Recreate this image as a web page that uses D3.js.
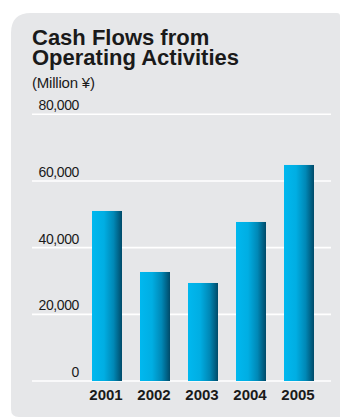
<!DOCTYPE html>
<html>
<head>
<meta charset="utf-8">
<script src="https://cdn.jsdelivr.net/npm/d3@7"></script>
<style>
  html, body { margin: 0; padding: 0; background: #ffffff; }
  svg { display: block; }
  text { font-family: "Liberation Sans", Arial, Helvetica, sans-serif; fill: #1a1a1a; }
</style>
</head>
<body>
<svg id="chart" width="340" height="417"></svg>
<script>
// Cash flows from operating activities, fiscal years 2001–2005 (Million ¥)
const years = ["2001", "2002", "2003", "2004", "2005"];
const cashFlows = [51000, 32700, 29400, 47700, 64800];
const tickValues = [0, 20000, 40000, 60000, 80000];
const titleLines = ["Cash Flows from", "Operating Activities"];
const unitLabel = "(Million ¥)";

const svg = d3.select("#chart");

// Panel background: large rounded top-left corner, small ones elsewhere
const px0 = 11, py0 = 13, px1 = 340, py1 = 417;
const rTL = 20, rTR = 3, rBL = 8;
const panel = d3.path();
panel.moveTo(px0 + rTL, py0);
panel.lineTo(px1 - rTR, py0);
panel.quadraticCurveTo(px1, py0, px1, py0 + rTR);
panel.lineTo(px1, py1);
panel.lineTo(px0 + rBL, py1);
panel.quadraticCurveTo(px0, py1, px0, py1 - rBL);
panel.lineTo(px0, py0 + rTL);
panel.quadraticCurveTo(px0, py0, px0 + rTL, py0);
panel.closePath();
svg.append("path").attr("d", panel.toString()).attr("fill", "#e6e7e9");

// Title, two tightly leaded lines
const title = svg.append("g");
titleLines.forEach((line, i) => {
  title.append("text")
    .attr("x", 32).attr("y", 44.5 + i * 20)
    .style("font-size", "22px").style("font-weight", "bold")
    .text(line);
});

svg.append("text")
  .attr("x", 32).attr("y", 87.5)
  .style("font-size", "15px").style("letter-spacing", "-0.2px")
  .text(unitLabel);

// Scales
const y = d3.scaleLinear().domain([0, 80000]).range([381, 114.3]);
const x = d3.scaleBand().domain(years).range([83, 323])
  .paddingInner(0.375).paddingOuter(0.1875);

// Gridlines
const gridX0 = 32, gridX1 = 331;
svg.append("g").selectAll("line").data(tickValues).join("line")
  .attr("x1", gridX0).attr("x2", gridX1)
  .attr("y1", d => y(d)).attr("y2", d => y(d))
  .attr("stroke", "#ffffff").attr("stroke-width", 1.6);

// Y tick labels, right-aligned above each gridline
const fmt = d3.format(",");
svg.append("g").selectAll("text").data(tickValues).join("text")
  .attr("x", 79).attr("y", d => y(d) - 4)
  .attr("text-anchor", "end")
  .style("font-size", "14px").style("letter-spacing", "-0.4px")
  .text(d => fmt(d));

// Bar shading: bright cyan fading to deep blue on the right side
const defs = svg.append("defs");
const grad = defs.append("linearGradient").attr("id", "barGrad")
  .attr("x1", "0%").attr("x2", "100%").attr("y1", "0%").attr("y2", "0%");
[["0%", "#00b8ef"], ["40%", "#00aee3"], ["72%", "#0088b6"], ["100%", "#004a69"]]
  .forEach(([o, c]) => grad.append("stop").attr("offset", o).attr("stop-color", c));

svg.append("g").selectAll("rect").data(years).join("rect")
  .attr("x", d => x(d))
  .attr("width", x.bandwidth())
  .attr("y", (d, i) => y(cashFlows[i]))
  .attr("height", (d, i) => y(0) - y(cashFlows[i]))
  .attr("fill", "url(#barGrad)");

// Year labels
svg.append("g").selectAll("text").data(years).join("text")
  .attr("x", d => x(d) + x.bandwidth() / 2 - 1)
  .attr("y", 399.5)
  .attr("text-anchor", "middle")
  .style("font-size", "15px").style("font-weight", "bold")
  .text(d => d);
</script>
</body>
</html>
